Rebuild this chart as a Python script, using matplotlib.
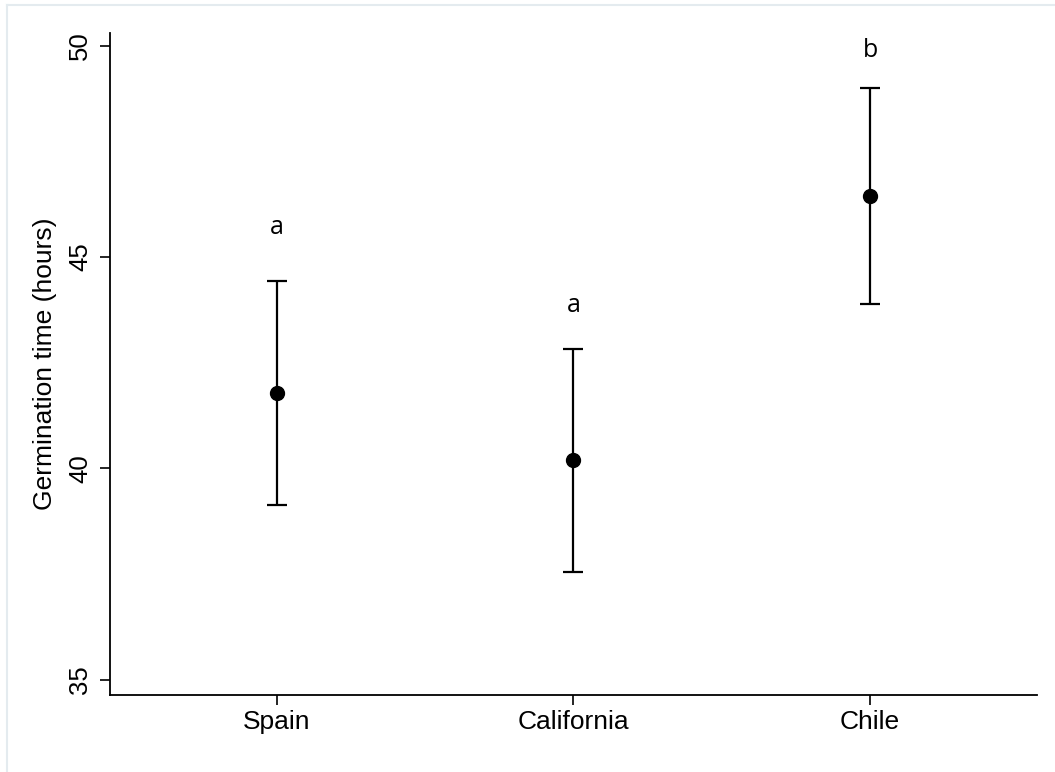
import matplotlib
matplotlib.use("Agg")
import matplotlib.pyplot as plt
from matplotlib.lines import Line2D

# data
regions = ["Spain", "California", "Chile"]
mean_hours = [41.79, 40.19, 46.45]
err_hours = [2.65, 2.63, 2.56]
group_letters = ["a", "a", "b"]
letter_y = [45.69, 43.86, 49.88]
yticks = [35, 40, 45, 50]

plt.rcParams['font.family'] = ['Liberation Sans', 'DejaVu Sans']

fig = plt.figure(figsize=(10.55, 7.72), dpi=100)
ax = fig.add_axes([110/1055, 77/772, 927/1055, 662/772])

x = list(range(1, len(regions) + 1))
ax.errorbar(x, mean_hours, yerr=err_hours, fmt='o', color='black',
            markersize=10, elinewidth=1.6, capsize=7, capthick=1.6)

for xi, lab, yl in zip(x, group_letters, letter_y):
    ax.text(xi, yl, lab, ha='center', va='center', fontsize=18,
            family=['Open Sans', 'DejaVu Sans'])

ax.set_xlim(0.437, 3.563)
ax.set_ylim(34.64, 50.3)
ax.set_xticks(x)
ax.set_xticklabels(regions, fontsize=19)
ax.set_yticks(yticks)
ax.set_yticklabels([str(t) for t in yticks], fontsize=18.5, rotation=90, va='center')
ax.tick_params(axis='y', length=7, width=1.2, pad=6)
ax.tick_params(axis='x', length=7, width=1.2, pad=4)

ax.set_ylabel('Germination time (hours)', fontsize=19)
ax.yaxis.set_label_coords(-0.057, 0.5)

for s in ['top', 'right']:
    ax.spines[s].set_visible(False)
for s in ['left', 'bottom']:
    ax.spines[s].set_linewidth(1.3)

# faint frame at the top and left edge of the graph region
fig.add_artist(Line2D([7/1055, 7/1055], [0, 1 - 5/772], transform=fig.transFigure,
                      color='#e4ebef', linewidth=1.5))
fig.add_artist(Line2D([7/1055, 1], [1 - 5/772, 1 - 5/772], transform=fig.transFigure,
                      color='#e4ebef', linewidth=1.5))

fig.savefig('out.png', dpi=100)
